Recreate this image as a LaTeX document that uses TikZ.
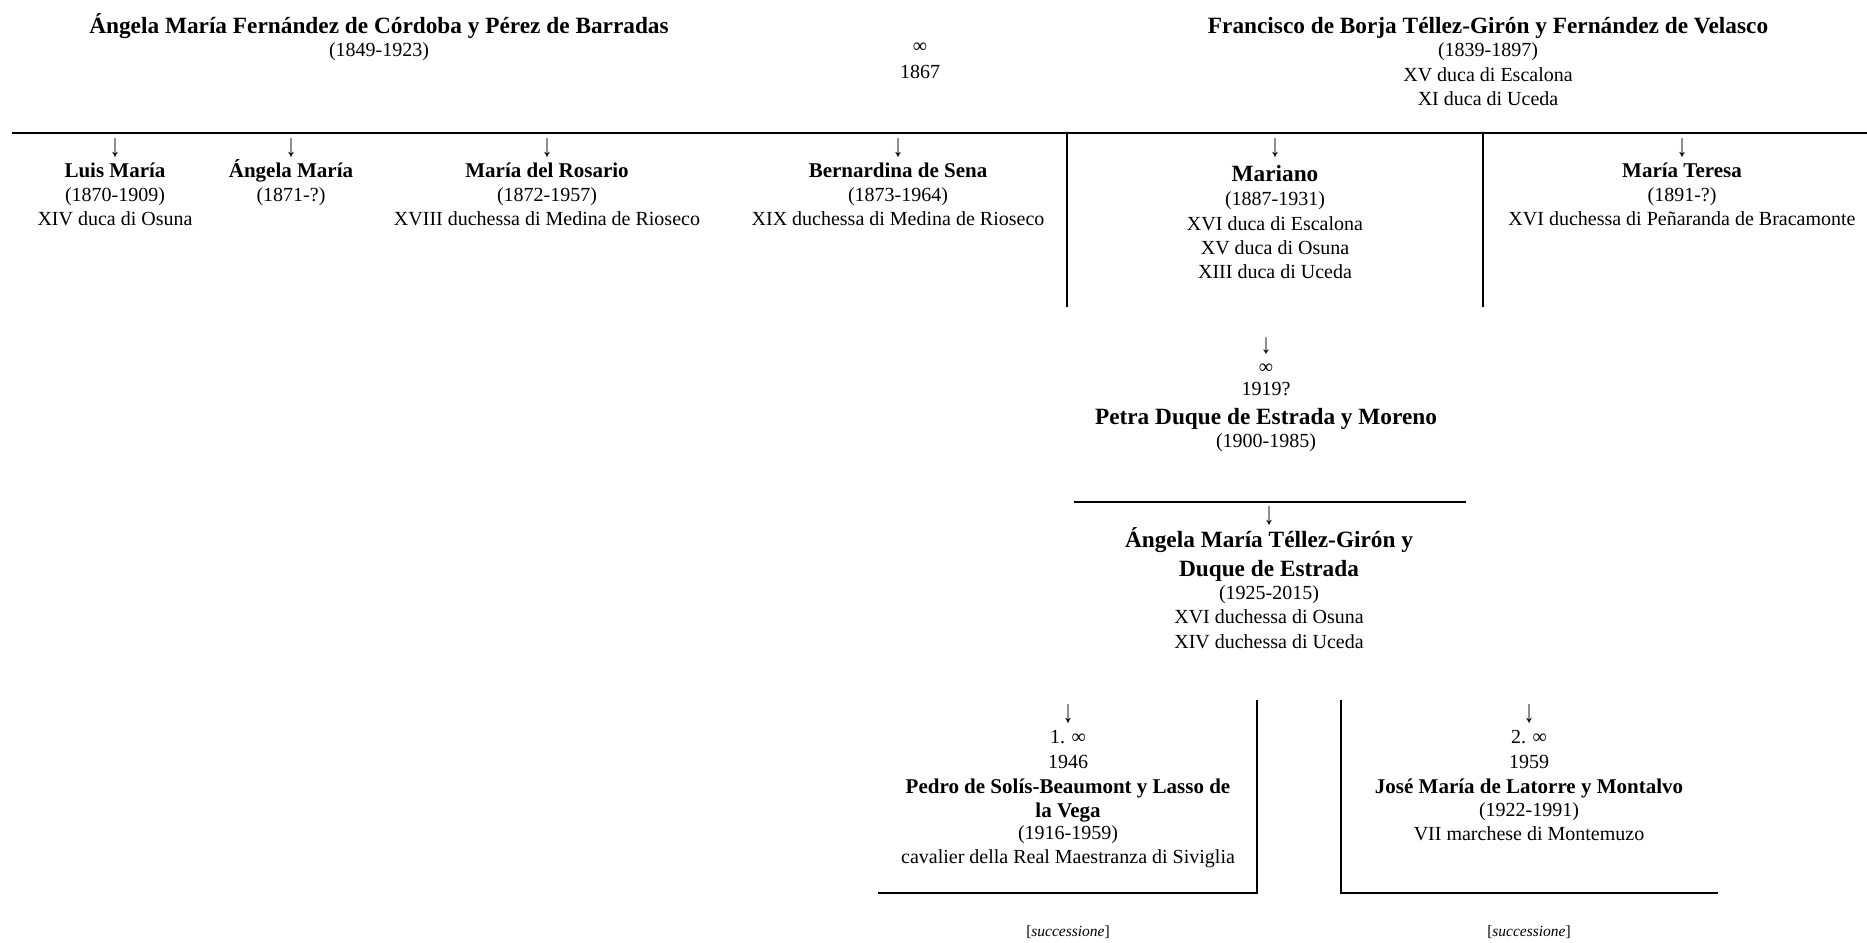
\documentclass[tikz,border=0pt]{standalone}
\usepackage{fontspec}
\setmainfont{Liberation Serif}
\newcommand\st{\strut}
\newcommand\dn[2][3.6pt]{\smash{\raisebox{-#1}{\scalebox{1.05}[#2]{↓}}}}
\newcommand\nmA[1]{\smash{\fontsize{23.3}{24.4}\selectfont\bfseries #1}}
\newcommand\nmB[1]{\smash{\fontsize{21}{24.4}\selectfont\bfseries #1}}
\tikzset{
  person/.style={align=center, anchor=north, inner sep=0pt, font=\fontsize{20}{24.4}\selectfont},
  tline/.style={line width=2.5pt, line cap=butt, line join=miter},
  succ/.style={anchor=base, inner sep=0pt, font=\fontsize{15.5}{18}\selectfont},
}
\begin{document}
\begin{tikzpicture}[x=1pt,y=-1pt]
\useasboundingbox (0,0) rectangle (1867,942);
% parents
\node[person] (af) at (379,16) {\st\nmA{Ángela María Fernández de Córdoba y Pérez de Barradas}\\[-1pt]\st(1849-1923)};
\node[person] (m1) at (920,35.4) {\st ∞\\[1.2pt]\st 1867};
\node[person] (fb) at (1488,16) {\st\nmA{Francisco de Borja Téllez-Girón y Fernández de Velasco}\\[-1pt]\st(1839-1897)\\\st XV duca di Escalona\\\st XI duca di Uceda};
% children
\node[person] (luis) at (115,136) {\st\dn{1.6}\\\st\nmB{Luis María}\\[-1pt]\st(1870-1909)\\\st XIV duca di Osuna};
\node[person] (angc) at (291,136) {\st\dn{1.6}\\\st\nmB{Ángela María}\\[-1pt]\st(1871-?)};
\node[person] (ros) at (547,136) {\st\dn{1.6}\\\st\nmB{María del Rosario}\\[-1pt]\st(1872-1957)\\\st XVIII duchessa di Medina de Rioseco};
\node[person] (ber) at (898,136) {\st\dn{1.6}\\\st\nmB{Bernardina de Sena}\\[-1pt]\st(1873-1964)\\\st XIX duchessa di Medina de Rioseco};
\node[person] (mar) at (1275,136) {\st\dn{1.6}\\[3.6pt]\st\nmA{Mariano}\\\st(1887-1931)\\\st XVI duca di Escalona\\\st XV duca di Osuna\\\st XIII duca di Uceda};
\node[person] (ter) at (1682,136) {\st\dn{1.6}\\\st\nmB{María Teresa}\\[-1pt]\st(1891-?)\\\st XVI duchessa di Peñaranda de Bracamonte};
% Petra
\node[person] (pet) at (1266,335) {\st\dn[1.0pt]{1.4}\\[-3.0pt]\st ∞\\[-2.4pt]\st 1919?\\[4.6pt]\st\nmA{Petra Duque de Estrada y Moreno}\\[-1.4pt]\st(1900-1985)};
% Angela Maria
\node[person] (ang) at (1269,504) {\st\dn{1.6}\\[1.6pt]\st\nmA{Ángela María Téllez-Girón y}\\[4.6pt]\st\nmA{Duque de Estrada}\\[-1.4pt]\st(1925-2015)\\\st XVI duchessa di Osuna\\\st XIV duchessa di Uceda};
% spouses
\node[person] (ped) at (1068,702) {\st\dn{1.6}\\\st 1. ∞\\\st 1946\\[0.6pt]\st\nmB{Pedro de Solís-Beaumont y Lasso de}\\\st\nmB{la Vega}\\[-2.4pt]\st(1916-1959)\\\st cavalier della Real Maestranza di Siviglia};
\node[person] (jos) at (1529,702) {\st\dn{1.6}\\\st 2. ∞\\\st 1959\\[0.6pt]\st\nmB{José María de Latorre y Montalvo}\\[-1.4pt]\st(1922-1991)\\\st VII marchese di Montemuzo};
\node[succ] (s1) at (1068,936) {[\textit{successione}]};
\node[succ] (s2) at (1529,936) {[\textit{successione}]};
% lines
\draw[tline] (12,133) -- (1867,133);
\draw[tline] (1067,133) -- (1067,307);
\draw[tline] (1483,133) -- (1483,307);
\draw[tline] (1074,502) -- (1466,502);
\draw[tline] (1257,700) -- (1257,893) -- (878,893);
\draw[tline] (1341,700) -- (1341,893) -- (1718,893);
\end{tikzpicture}
\end{document}
